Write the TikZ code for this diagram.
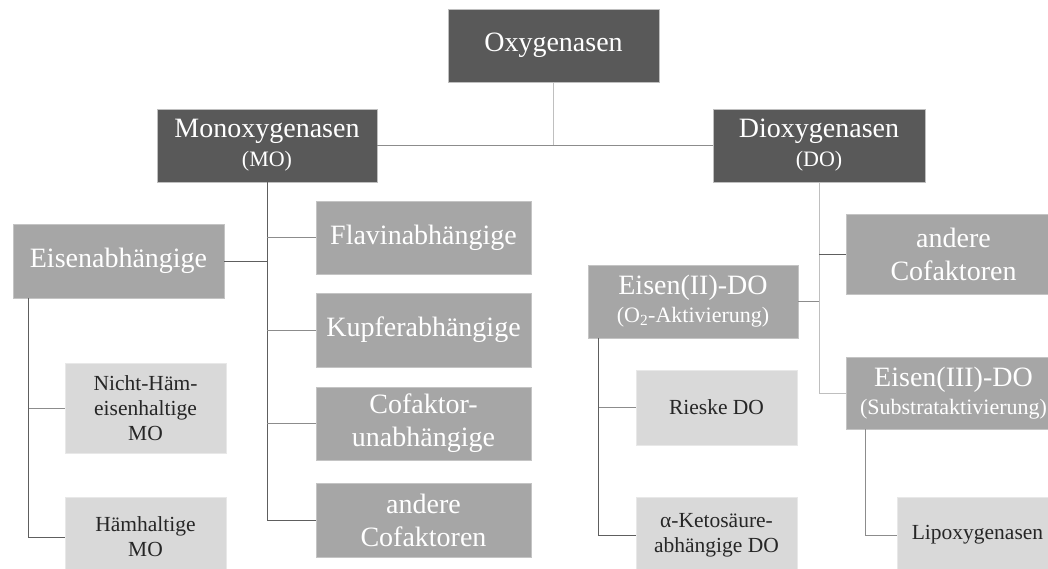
\documentclass[tikz,border=0pt]{standalone}
\usepackage{fontspec}
\setmainfont{Liberation Serif}
\definecolor{cdark}{HTML}{595959}
\definecolor{cmid}{HTML}{A6A6A6}
\definecolor{clight}{HTML}{D9D9D9}
\definecolor{bdark}{HTML}{BFBFBF}
\definecolor{bmid}{HTML}{C4C4C4}
\definecolor{blight}{HTML}{E8E8E8}
\definecolor{ctext}{HTML}{262626}
\definecolor{lnA}{HTML}{BFBFBF}
\definecolor{lnB}{HTML}{5E5E5E}
\definecolor{lnC}{HTML}{8C8C8C}
\begin{document}
\begin{tikzpicture}[x=1pt,y=-1pt,
  basebox/.style={rectangle, inner sep=0pt, align=center, line width=0.8pt},
  darkbox/.style={basebox, fill=cdark, draw=bdark, text=white, font=\fontsize{28}{29}\selectfont},
  midbox/.style={basebox, fill=cmid, draw=bmid, text=white, font=\fontsize{28}{33}\selectfont},
  lightbox/.style={basebox, fill=clight, draw=blight, text=ctext, font=\fontsize{21.5}{25}\selectfont},
  subline/.style={font=\fontsize{28}{28}\selectfont},
  sz/.style 2 args={minimum width=#1, minimum height=#2},
  lnlight/.style={draw=lnA, line width=1pt},
  lndark/.style={draw=lnB, line width=1pt},
  lnmid/.style={draw=lnC, line width=1pt}
]
\useasboundingbox (0,0) rectangle (1048,568);
\clip (0,0) rectangle (1048,568);
\fill[white] (0,0) rectangle (1048,568);

% top level
\node[darkbox, sz={211}{73}] (oxy) at (553.5,45.5) {Oxygenasen};
\node[darkbox, sz={220}{73}] (mo) at (267,145.5) {Monoxygenasen\\{\fontsize{22}{29}\selectfont (MO)}};
\node[darkbox, sz={212}{73}] (do) at (819,145.5) {Dioxygenasen\\{\fontsize{22}{29}\selectfont (DO)}};

% MO children
\node[midbox, sz={211}{74}] (eisen) at (118.5,261) {Eisenabhängige};
\node[midbox, sz={215}{73}] (flav) at (423.5,237.5) {Flavinabhängige};
\node[midbox, sz={215}{74}] (kupf) at (423.5,330) {Kupferabhängige};
\node[midbox, sz={215}{73}] (cofu) at (423.5,423.5) {Cofaktor-\\unabhängige};
\node[midbox, sz={215}{74}] (andmo) at (423.5,520) {andere\\Cofaktoren};

\node[lightbox, sz={161}{90}] (nhaem) at (145.5,408) {Nicht-Häm-\\eisenhaltige\\MO};
\node[lightbox, sz={161}{80}] (haem) at (145.5,537) {Hämhaltige\\MO};

% DO children
\node[midbox, sz={215}{80}] (ando) at (953.5,254) {andere\\Cofaktoren};
\node[midbox, subline, sz={210}{73}] (e2) at (693,301.5) {Eisen(II)-DO\\{\fontsize{22}{28}\selectfont (O\textsubscript{2}-Aktivierung)}};
\node[midbox, subline, sz={215}{72}] (e3) at (953.5,393) {Eisen(III)-DO\\{\fontsize{22}{28}\selectfont (Substrataktivierung)}};

\node[lightbox, sz={161}{75}] (rieske) at (716.5,407.5) {Rieske DO};
\node[lightbox, sz={161}{76}] (keto) at (716.5,535) {α-Ketosäure-\\abhängige DO};
\node[lightbox, sz={161}{76}] (lipo) at (977.5,535) {Lipoxygenasen};

% connectors top
\draw[lnlight] (oxy.south) -- (oxy.south |- mo.east);
\draw[lnmid] (mo.east) -- (do.west);

% MO tree
\draw[lndark] (mo.south) -- (mo.south |- andmo.west) -- (andmo.west);
\draw[lnmid] (mo.south |- flav.west) -- (flav.west);
\draw[lnmid] (mo.south |- kupf.west) -- (kupf.west);
\draw[lnmid] (mo.south |- cofu.west) -- (cofu.west);
\draw[lndark] (eisen.east) -- (mo.south |- eisen.east);

\coordinate (ev) at ([xshift=16pt]eisen.south west);
\draw[lndark] (ev) -- (ev |- haem.west) -- (haem.west);
\draw[lnmid] (ev |- nhaem.west) -- (nhaem.west);

% DO tree
\draw[lnlight] (do.south) -- (do.south |- e3.west) -- (e3.west);
\draw[lndark] (do.south |- ando.west) -- (ando.west);
\draw[lnmid] (e2.east) -- (do.south |- e2.east);

\coordinate (e2v) at ([xshift=11pt]e2.south west);
\draw[lndark] (e2v) -- (e2v |- keto.west) -- (keto.west);
\draw[lnmid] (e2v |- rieske.west) -- (rieske.west);

\coordinate (e3v) at ([xshift=20pt]e3.south west);
\draw[lnmid] (e3v) -- (e3v |- lipo.west) -- (lipo.west);
\end{tikzpicture}
\end{document}
